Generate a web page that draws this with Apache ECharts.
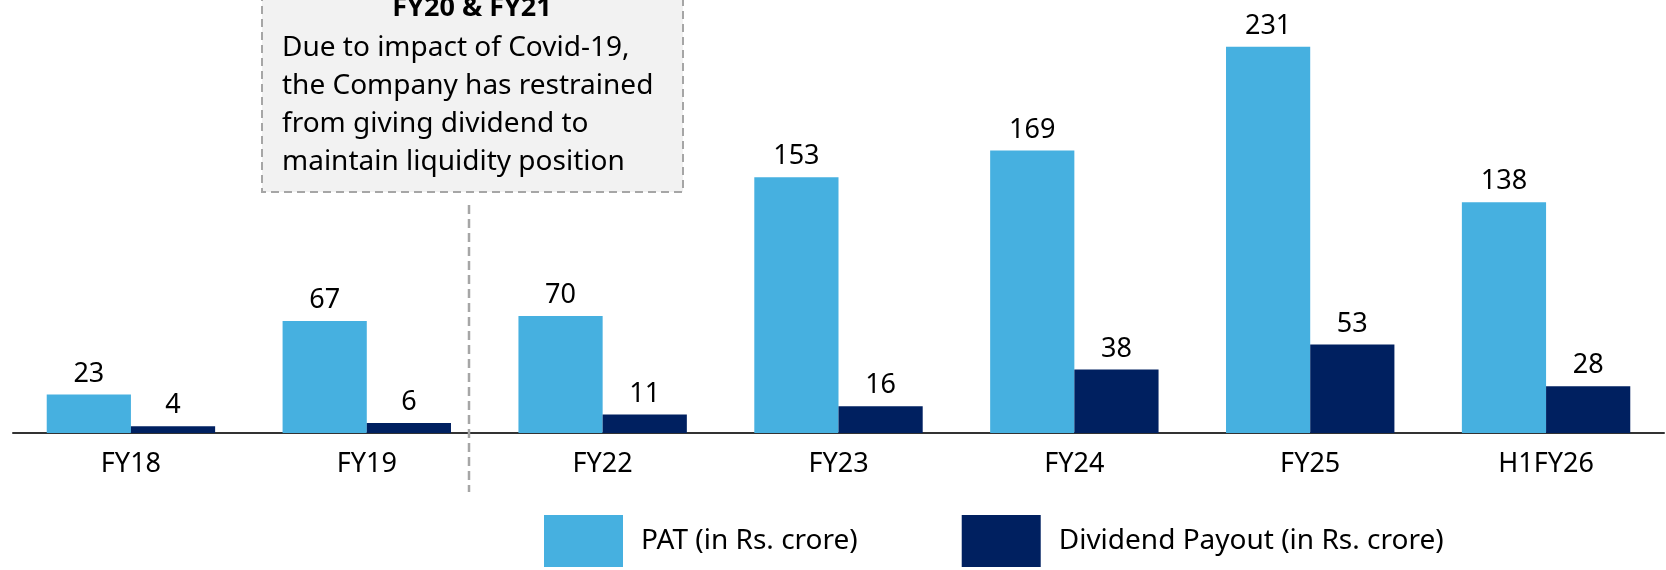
<!DOCTYPE html>
<html>
<head>
<meta charset="utf-8">
<script src="https://cdn.jsdelivr.net/npm/echarts@6/dist/echarts.min.js"></script>
<style>
html,body{margin:0;padding:0;background:#fff;}
#chart{width:1666px;height:570px;}
</style>
</head>
<body>
<div id="chart"></div>
<script>
var categories = ['FY18', 'FY19', 'FY22', 'FY23', 'FY24', 'FY25', 'H1FY26'];
var patValues = [23, 67, 70, 153, 169, 231, 138];
var dividendValues = [4, 6, 11, 16, 38, 53, 28];
var seriesNames = ['PAT (in Rs. crore)', 'Dividend Payout (in Rs. crore)'];
var noteTitle = 'FY20 & FY21';
var noteLines = ['Due to impact of Covid-19,', 'the Company has restrained', 'from giving dividend to', 'maintain liquidity position'];

var FONT = '"Noto Sans", "Open Sans", sans-serif';
var chart = echarts.init(document.getElementById('chart'));

var labelStyle = {
  show: true, position: 'top', distance: 7,
  fontFamily: FONT, fontSize: 27, color: '#000'
};

chart.setOption({
  animation: false,
  backgroundColor: '#fff',
  grid: { left: 13, right: 2, top: 15, bottom: 137 },
  xAxis: {
    type: 'category',
    data: categories,
    axisTick: { show: false },
    axisLine: { lineStyle: { color: '#333', width: 2 } },
    axisLabel: { fontFamily: FONT, fontSize: 27, color: '#000', margin: 18 }
  },
  yAxis: {
    type: 'value', min: 0, max: 250, show: false,
    splitLine: { show: false }
  },
  legend: {
    left: 544, top: 515, padding: 0,
    icon: 'rect',
    itemWidth: 79, itemHeight: 52,
    itemGap: 104,
    textStyle: { fontFamily: FONT, fontSize: 28, color: '#000', padding: [0, 0, 0, 13] },
    data: seriesNames
  },
  series: [
    {
      name: seriesNames[0], type: 'bar', data: patValues,
      barGap: '0%', barCategoryGap: '28.6%',
      itemStyle: { color: '#46b0e0' },
      label: labelStyle
    },
    {
      name: seriesNames[1], type: 'bar', data: dividendValues,
      itemStyle: { color: '#002060' },
      label: labelStyle
    }
  ],
  graphic: [
    {
      type: 'rect', z: 10,
      shape: { x: 262, y: -10, width: 421, height: 202 },
      style: { fill: '#f2f2f2', stroke: '#a6a6a6', lineWidth: 2, lineDash: [8, 5] }
    },
    {
      type: 'text', z: 11,
      style: {
        x: 472, y: 8, text: noteTitle, align: 'center', verticalAlign: 'middle',
        fontFamily: FONT, fontSize: 27, fontWeight: 'bold', fill: '#000'
      }
    },
    {
      type: 'text', z: 11,
      style: {
        x: 282, y: 29, text: noteLines.join('\n'), align: 'left', verticalAlign: 'top',
        fontFamily: FONT, fontSize: 28, lineHeight: 38, fill: '#000'
      }
    },
    {
      type: 'line', z: 10,
      shape: { x1: 469, y1: 205, x2: 469, y2: 492 },
      style: { stroke: '#a6a6a6', lineWidth: 2.5, lineDash: [9, 5] }
    }
  ]
});
</script>
</body>
</html>
